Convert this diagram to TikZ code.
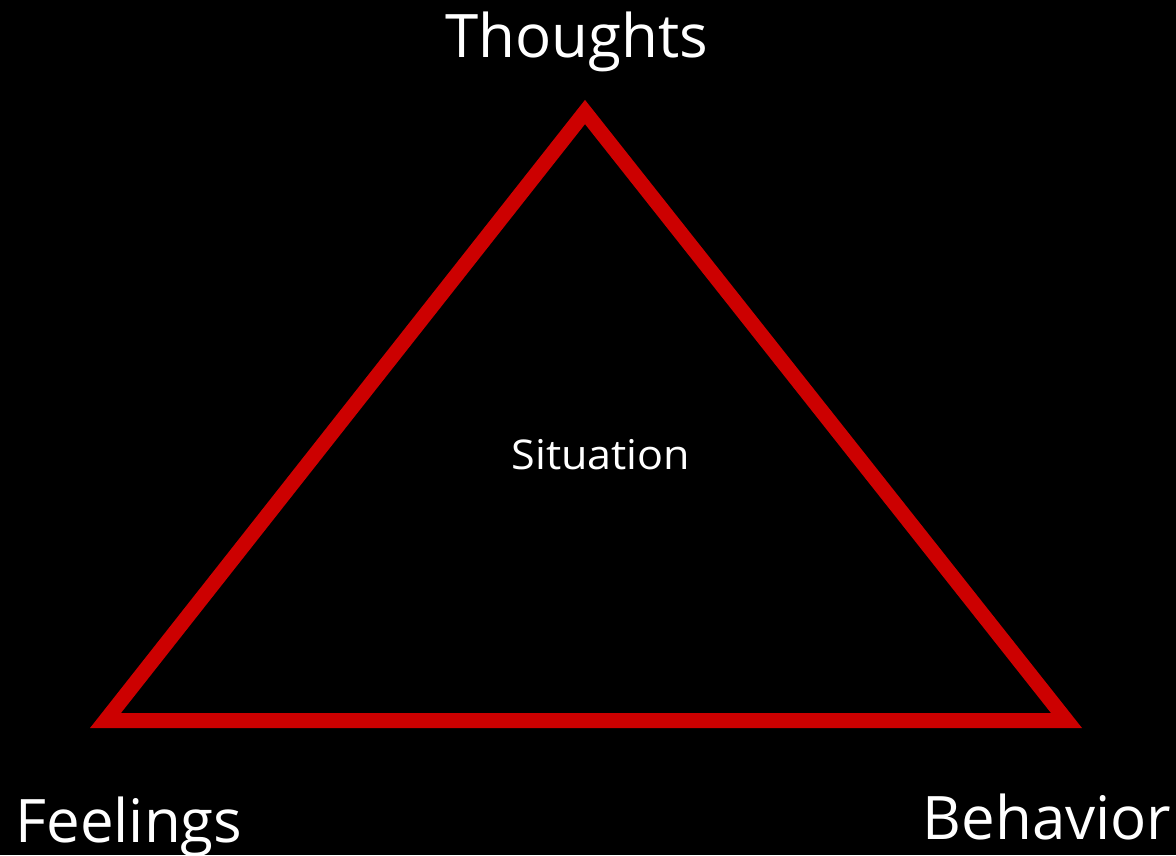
\documentclass[tikz,border=0pt]{standalone}
\usepackage{fontspec}
\setmainfont{Open Sans}
\definecolor{tri}{RGB}{204,0,0}
\begin{document}
\begin{tikzpicture}[x=1pt,y=-1pt,
  lbl/.style={text=white,inner sep=0pt,anchor=base},
  big/.style={lbl,font=\fontsize{60}{60}\selectfont},
  edge/.style={draw=tri,line width=15pt,line join=miter}]
\fill[black] (0,0) rectangle (1176,855);
\useasboundingbox (0,0) rectangle (1176,855);
\coordinate (T) at (585,112);
\coordinate (L) at (105.5,720.5);
\coordinate (R) at (1066.5,720.5);
\draw[edge] (T) -- (L) -- (R) -- cycle;
\node[big] (thoughts) at (577,57) {Thoughts};
\node[lbl,font=\fontsize{41}{41}\selectfont,xscale=1.05] (situation) at (601,469) {Situation};
\node[big] (feelings) at (129,842) {Feelings};
\node[big] (behavior) at (1047,839) {Behavior};
\end{tikzpicture}
\end{document}
